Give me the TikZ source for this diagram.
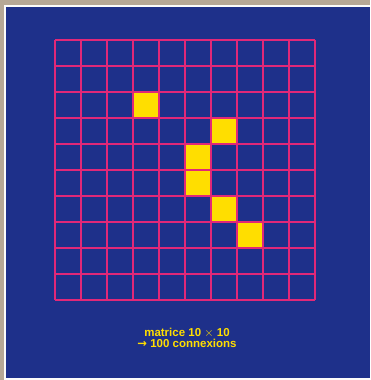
\documentclass[tikz,border=0pt]{standalone}
\usepackage{fontspec}
\setmainfont{Liberation Sans}
\newfontfamily\arrowfont{DejaVu Sans}
\usepackage{tikz}
\usetikzlibrary{positioning}
\definecolor{PanelBlue}{RGB}{30,48,138}
\definecolor{GridPink}{RGB}{225,40,120}
\definecolor{CellYellow}{RGB}{255,222,0}
\definecolor{FrameTan}{RGB}{182,168,150}

\begin{document}
\begin{tikzpicture}[x=1pt, y=-1pt]
    % frame
    \fill[FrameTan] (0,0) rectangle (370,380);
    \fill[white!95!FrameTan] (4,5) rectangle (370,380);
    \fill[PanelBlue] (6,7) rectangle (370,378);

    % matrix
    \begin{scope}[shift={(55,40)}, x=26pt, y=-26pt]
      \foreach \c/\r in {3/2, 6/3, 5/4, 5/5, 6/6, 7/7}
        \fill[CellYellow] (\c,\r) rectangle ++(1,1);
      \foreach \i in {0,...,10} {
        \draw[GridPink, line width=1.4pt] (\i,0) -- (\i,10);
        \draw[GridPink, line width=1.4pt] (0,\i) -- (10,\i);
      }
    \end{scope}

    % caption
    \node[font=\fontsize{11.5}{11}\selectfont\bfseries, text=CellYellow, align=center]
      (caption) at (187,338) {matrice 10 $\times$ 10\\{\arrowfont\bfseries →} 100 connexions};
  \end{tikzpicture}
\end{document}
